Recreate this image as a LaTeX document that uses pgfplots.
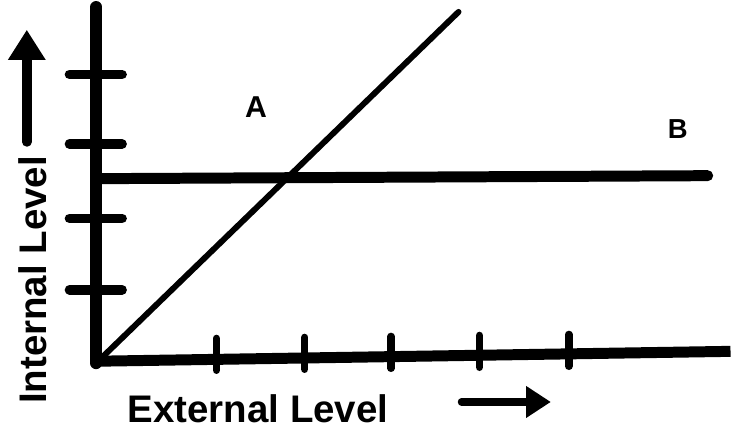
\documentclass[border=0pt]{standalone}
\usepackage{pgfplots}
\pgfplotsset{compat=1.18}
\usetikzlibrary{arrows.meta}
\usepackage{fontspec}
\setmainfont{Liberation Sans}
\begin{document}
\begin{tikzpicture}
\begin{axis}[scale only axis,width=7.36in,height=4.32in,
  xmin=-100,xmax=636,ymin=-72,ymax=360,hide axis,clip=false,
  every axis plot/.append style={black,no marks,line cap=round}]
% frame of the picture (invisible)
\addplot[draw=none] coordinates {(-100,-72) (636,360)};
% axes
\addplot[line width=8.6pt] coordinates {(-3,-6) (-3,353)};
\addplot[line width=8pt,line cap=butt] coordinates {(-6,-4) (636,6)};
% y ticks
\addplot[line width=7pt] coordinates {(-30,285) (23,285)};
\addplot[line width=7pt] coordinates {(-30,215) (23,215)};
\addplot[line width=7pt] coordinates {(-30,140) (23,140)};
\addplot[line width=7pt] coordinates {(-30,68) (23,68)};
% x ticks
\addplot[line width=5.5pt] coordinates {(118,-13) (118,19)};
\addplot[line width=5.5pt] coordinates {(207,-12) (207,20)};
\addplot[line width=5.5pt] coordinates {(294,-11) (294,21)};
\addplot[line width=5.5pt] coordinates {(383,-10) (383,22)};
\addplot[line width=5.5pt] coordinates {(473,-9) (473,23)};
% lines
\addplot[line width=8pt] coordinates {(0,180) (613,183)};
\addplot[line width=4.3pt] coordinates {(5,2) (362,348)};
% direction arrows
\addplot[line width=7pt,-{Triangle[length=22pt,width=26pt]}] coordinates {(-73,217) (-73,330)};
\addplot[line width=5.5pt,-{Triangle[length=18pt,width=22pt]}] coordinates {(365,-45) (455,-45)};
\node[font=\fontsize{28}{28}\selectfont\bfseries,rotate=90,inner sep=0pt] at (axis cs:-67,78) {Internal Level};
\node[font=\fontsize{28}{28}\selectfont\bfseries,inner sep=0pt] at (axis cs:160,-52) {External Level};
\node[font=\fontsize{22}{22}\selectfont\bfseries] at (axis cs:158,252) {A};
\node[font=\fontsize{20}{20}\selectfont\bfseries] at (axis cs:583,230) {B};
\end{axis}
\end{tikzpicture}
\end{document}
